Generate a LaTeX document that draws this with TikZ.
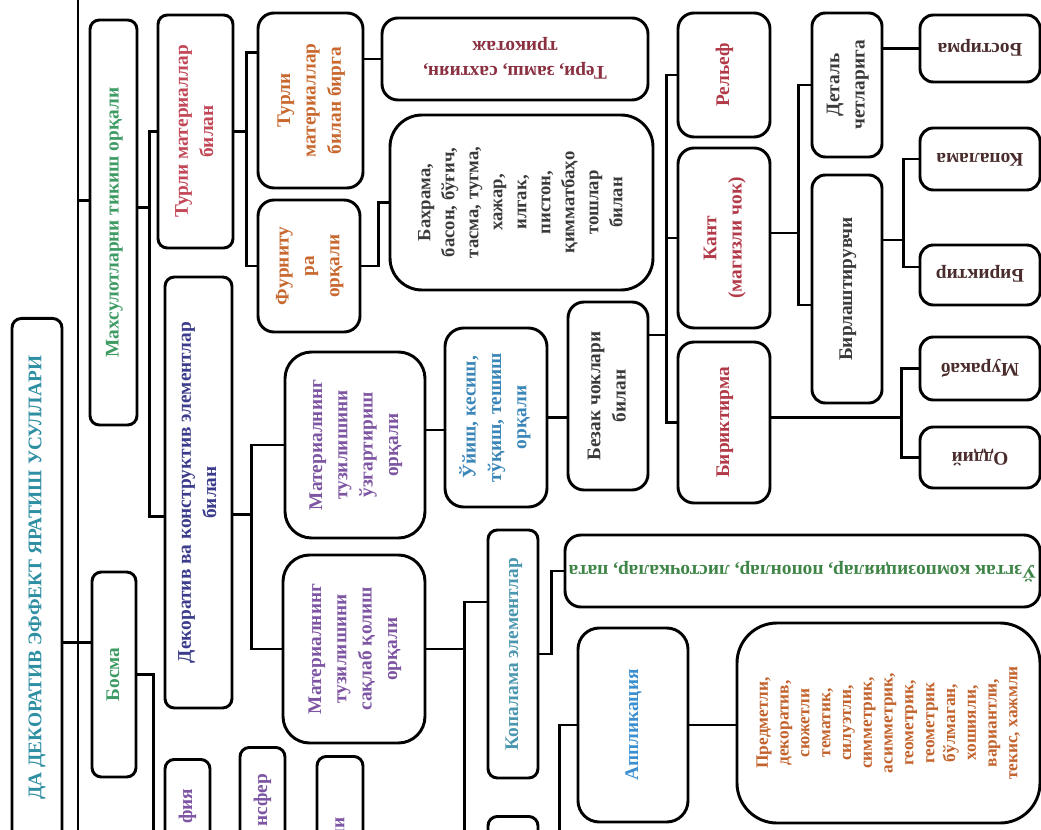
\documentclass[tikz,border=0pt]{standalone}
\usepackage{fontspec}
\setmainfont{Liberation Serif}
\usepackage{graphicx}
\usetikzlibrary{calc}

\definecolor{ttlc}{HTML}{2E8FA3}
\definecolor{grn}{HTML}{3D9B63}
\definecolor{redc}{HTML}{C24757}
\definecolor{navy}{HTML}{3C3C8C}
\definecolor{orng}{HTML}{C8682E}
\definecolor{terc}{HTML}{8A3040}
\definecolor{purp}{HTML}{7E55A3}
\definecolor{cyanc}{HTML}{3A86B8}
\definecolor{relc}{HTML}{B23A48}
\definecolor{darkc}{HTML}{3A3A3A}
\definecolor{brn}{HTML}{4A2C2C}
\definecolor{kelc}{HTML}{4B97B0}
\definecolor{uzgc}{HTML}{3F8548}
\definecolor{appc}{HTML}{3B8FD0}
\definecolor{prec}{HTML}{C2622C}

\newcommand{\vtext}[2][1]{\rotatebox{90}{\renewcommand{\arraystretch}{#1}\begin{tabular}{@{}c@{}}#2\end{tabular}}}
\newcommand{\utext}[1]{\rotatebox{180}{\begin{tabular}{@{}c@{}}#1\end{tabular}}}
\newcommand{\ctext}[3]{\rotatebox{90}{\makebox[#1][r]{#3\hspace*{#2}}}}

\begin{document}
\begin{tikzpicture}[x=0.75pt, y=-0.75pt,
            main box/.style={draw, line width=2.2pt, fill=white, rounded corners=7pt, inner sep=0pt,
                font=\fontsize{14.5}{19}\selectfont\bfseries},
            box size/.style 2 args={minimum width=#1*0.75pt, minimum height=#2*0.75pt},
            round box/.style={main box, rounded corners=20pt},
            link/.style={line width=2.2pt},
            ]

            \useasboundingbox (0,0) rectangle (1041,830);
            \clip (0,0) rectangle (1041,830);
            \fill[white] (0,0) rectangle (1041,830);

            \node[main box, box size={50}{10}, anchor=north, text=ttlc] (ttl) at (37,317) {\ctext{400pt}{28pt}{ДА ДЕКОРАТИВ ЭФФЕКТ ЯРАТИШ УСУЛЛАРИ}};
            \node[main box, box size={47}{405}, text=grn] (mah) at (113.5,222.5) {\vtext{Махсулотларни тикиш орқали}};
            \node[main box, box size={44}{205}, text=grn] (bos) at (114,674.5) {\vtext{Босма}};

            \node[main box, box size={75}{233}, text=redc] (tur) at (195.5,131.5) {\vtext{Турли материаллар\\билан}};
            \node[main box, box size={67}{431}, text=navy] (dek) at (198.5,492.5) {\vtext{Декоратив ва конструктив элементлар\\билан}};

            \node[main box, rounded corners=12pt, box size={105}{175}, text=orng] (tmb) at (310.5,100.5) {\vtext{Турли\\материаллар\\билан бирга}};
            \node[main box, rounded corners=12pt, box size={102}{132}, text=orng] (fur) at (309,266) {\vtext{Фурниту\\ра\\орқали}};
            \node[main box, rounded corners=12pt, box size={266}{82}, text=terc] (ter) at (515,59) {\utext{Тери, замш, сахтиян,\\трикотаж}};
            \node[main box, rounded corners=24pt, box size={263}{175}, text=darkc, font=\fontsize{14}{18}\selectfont\bfseries] (bah) at (521.5,202.5) {\vtext{Бахрама,\\басон, бўғич,\\тасма, тугма,\\хажар,\\илгак,\\пистон,\\қимматбаҳо\\тошлар\\билан}};

            \node[round box, box size={140}{186}, text=purp] (mtu) at (355,445) {\vtext{Материалнинг\\тузилишини\\ўзгартириш\\орқали}};
            \node[round box, box size={142}{188}, text=purp] (mts) at (354,649) {\vtext{Материалнинг\\тузилишини\\сақлаб қолиш\\орқали}};
            \node[main box, rounded corners=14pt, box size={102}{179}, text=cyanc] (uyi) at (496,417.5) {\vtext{Ўйиш, кесиш,\\тўқиш, тешиш\\орқали}};
            \node[main box, rounded corners=12pt, box size={80}{188}, text=darkc] (bez) at (608,396) {\vtext{Безак чоклари\\билан}};

            \node[main box, rounded corners=12pt, box size={92}{124}, text=relc] (rel) at (724,75) {\vtext{Рельеф}};
            \node[main box, rounded corners=12pt, box size={92}{180}, text=relc] (kan) at (724,238) {\vtext{Кант\\(магизли чок)}};
            \node[main box, rounded corners=12pt, box size={92}{161}, text=relc] (bir) at (724,422.5) {\vtext{Бириктирма}};
            \node[main box, rounded corners=10pt, box size={70}{144}, text=darkc] (det) at (847,85) {\vtext{Деталь\\четларига}};
            \node[main box, rounded corners=10pt, box size={70}{228}, text=darkc] (brl) at (847,289) {\vtext{Бирлаштирувчи}};

            \node[main box, rounded corners=10pt, box size={120}{67}, text=brn] (bst) at (980,48.5) {\utext{Бостирма}};
            \node[main box, rounded corners=10pt, box size={120}{62}, text=brn] (kop) at (980,159) {\utext{Копалама}};
            \node[main box, rounded corners=10pt, box size={120}{60}, text=brn] (brk) at (980,275) {\utext{Бириктир}};
            \node[main box, rounded corners=10pt, box size={120}{63}, text=brn] (mur) at (980,368.5) {\utext{Муракаб}};
            \node[main box, rounded corners=10pt, box size={120}{61}, text=brn] (odd) at (980,457.5) {\utext{Оддий}};

            \node[main box, box size={50}{248}, text=kelc] (kel) at (513,654) {\vtext{Копалама элементлар}};
            \node[main box, rounded corners=12pt, box size={475}{72}, text=uzgc] (uzg) at (802.5,571) {\utext{Ўзгтак композициялар, попонлар, листочкалар, пата}};
            \node[main box, rounded corners=16pt, box size={110}{194}, text=appc] (app) at (633,725) {\vtext{Аппликация}};
            \node[round box, rounded corners=30pt, box size={303}{200}, text=prec, font=\fontsize{13}{15.6}\selectfont\bfseries] (pre) at (888.5,723) {\vtext{Предметли,\\декоратив,\\сюжетли\\тематик,\\силуэтли,\\симметрик,\\асимметрик,\\геометрик,\\геометрик\\бўлмаган,\\хошияли,\\вариантли,\\текис, хажмли}};

            \node[main box, box size={45}{10}, anchor=north, text=purp] (b1) at (187.5,758) {\ctext{150pt}{22pt}{фия}};
            \node[main box, box size={45}{10}, anchor=north, text=purp] (b2) at (262.5,746) {\ctext{150pt}{20pt}{нсфер}};
            \node[main box, box size={46}{10}, anchor=north, text=purp] (b3) at (340,755) {\ctext{150pt}{46pt}{ли}};
            \node[main box, box size={50}{200}, anchor=north] (b4) at (513,815) {};

            \coordinate (btop) at (78,-10);
            \coordinate (bbot) at (78,840);
            \draw[link] (btop) -- (bbot);
            \draw[link] ($(bos.west)+(0,-32)$) coordinate (bw) -- (bw -| ttl.east);
            \draw[link] ($(mah.west)+(0,-22)$) coordinate (mw) -- (mw -| btop);

            \draw[link] ($(mah.east)+(0,-15)$) -- ++(11,0) coordinate (mj) |- (tur.west) (mj) |- ($(dek.west)+(0,24)$);
            \draw[link] (bos.east) -- ++(16,0) coordinate (oj) |- (b1.west);
            \draw[link] (tur.east) -- ++(12,0) coordinate (tj) |- ($(tmb.west)+(0,-48)$) (tj) |- (fur.west);
            \draw[link] (ter.west) -- (ter.west -| tmb.east);
            \draw[link] (fur.east) -- ++(17,0) |- (bah.west);
            \draw[link] ($(dek.east)+(0,22)$) -- ++(18,0) coordinate (dj) |- (mtu.west) (dj) |- (mts.west);
            \draw[link] ($(mtu.east)+(0,-15)$) coordinate (m1) -- (m1 -| uyi.west);
            \draw[link] (uyi.east) -- (uyi.east -| bez.west);
            \draw[link] ($(bez.east)+(0,-61)$) -- ++(17,0) coordinate (zj) |- (rel.west) (zj) |- (kan.west) (zj) |- (bir.west);
            \draw[link] ($(kan.east)+(0,-5)$) -- ++(27,0) coordinate (kj) |- (det.west) (kj) |- ($(brl.west)+(0,16)$);
            \draw[link] (bst.west) -- (bst.west -| det.east);
            \draw[link] ($(brl.east)+(0,-49)$) -- ++(20,0) coordinate (rj) |- (kop.west) (rj) |- ($(brk.west)+(0,-8)$);
            \draw[link] ($(bir.east)+(0,-5)$) -- ++(130,0) coordinate (ij) |- (mur.west) (ij) |- (odd.west);
            \draw[link] (mts.east) -- ++(38,0) coordinate (sj) |- ($(kel.west)+(0,-52)$) (sj) |- (b4.west);
            \draw[link] (kel.east) -- ++(12,0) |- (uzg.west);
            \draw[link] (b4.east) -- ++(20,0) |- (app.west);
            \draw[link] (app.east) -- (app.east -| pre.west);
        \end{tikzpicture}
\end{document}
